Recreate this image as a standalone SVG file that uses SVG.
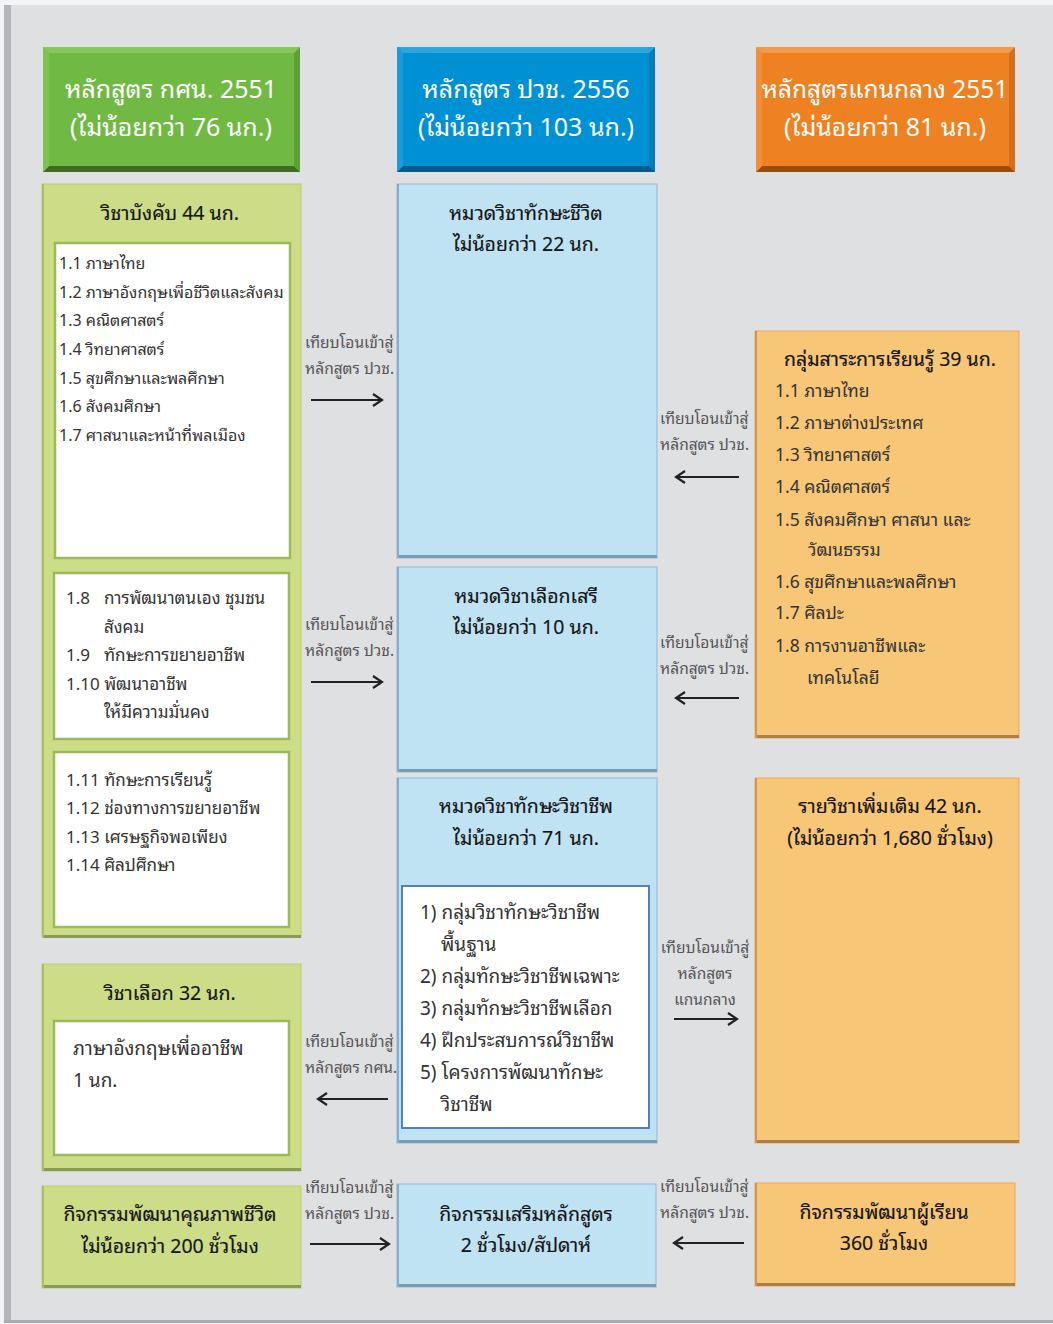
<svg xmlns="http://www.w3.org/2000/svg" width="1053" height="1324" viewBox="0 0 1053 1324">
<defs>
<marker id="ah" markerWidth="14" markerHeight="14" refX="11" refY="7" orient="auto" markerUnits="userSpaceOnUse">
<path d="M2,1 L11,7 L2,13" fill="none" stroke="#222" stroke-width="2.2"/>
</marker>
</defs>
<style>
text{font-family:"Noto Sans Thai Looped","Loma","Garuda","Tlwg Typo","Noto Sans Thai","Noto Sans","DejaVu Sans",sans-serif;}
.hd{fill:#fff;font-size:25px;text-anchor:middle;}
.ti{fill:#151515;font-size:19.5px;text-anchor:middle;stroke:#151515;stroke-width:0.15;}
.it{fill:#333;font-size:16px;}
.i2{fill:#333;font-size:17px;}
.i3{fill:#333;font-size:17.5px;}
.i4{fill:#333;font-size:19px;}
.lb{fill:#555;font-size:15.5px;}
.lbc{fill:#555;font-size:15.5px;text-anchor:middle;}
.gp{fill:#cddc87;stroke:#b6cf6a;stroke-width:1;}
.bp{fill:#c0e3f4;stroke:#8fb8dd;stroke-width:1;}
.op{fill:#f7c677;stroke:#f5a55a;stroke-width:1;}
.wg{fill:#fff;stroke:#9bbb59;stroke-width:2.5;}
.wb{fill:#fff;stroke:#4f81bd;stroke-width:2;}
.gs{fill:#8a9a58;}
.bs{fill:#7b9bb4;}
.os{fill:#a88048;}
.ar{stroke:#222;stroke-width:2.2;fill:none;marker-end:url(#ah);}
</style>
<rect x="0" y="0" width="1053" height="1324" fill="#f2f5f8"/>
<rect x="4" y="5" width="1049" height="1318" fill="#dfe0e2"/>
<rect x="4" y="5" width="7" height="1318" fill="#b4b6ba"/>
<rect x="4" y="1320" width="1049" height="3" fill="#a9abaf"/>

<g id="h1">
<rect x="43" y="47" width="257" height="125" fill="#70b943"/>
<polygon points="43,172 300,172 294,166 49,166" fill="#3f6b25"/>
<polygon points="43,47 49,53 49,166 43,172" fill="#7cc34f"/>
<polygon points="300,47 294,53 294,166 300,172" fill="#5f9e38"/>
<polygon points="43,47 300,47 294,53 49,53" fill="#86c85a"/>
<text class="hd" x="171" y="98">หลักสูตร กศน. 2551</text>
<text class="hd" x="171" y="136">(ไม่น้อยกว่า 76 นก.)</text>
</g>
<g id="h2">
<rect x="397" y="47" width="258" height="125" fill="#0090d4"/>
<polygon points="397,172 655,172 649,166 403,166" fill="#005a8a"/>
<polygon points="397,47 403,53 403,166 397,172" fill="#1a9cda"/>
<polygon points="655,47 649,53 649,166 655,172" fill="#007cb8"/>
<polygon points="397,47 655,47 649,53 403,53" fill="#2aa5de"/>
<text class="hd" x="526" y="98">หลักสูตร ปวช. 2556</text>
<text class="hd" x="526" y="136">(ไม่น้อยกว่า 103 นก.)</text>
</g>
<g id="h3">
<rect x="756" y="47" width="259" height="125" fill="#ee8121"/>
<polygon points="756,172 1015,172 1009,166 762,166" fill="#9a4d0b"/>
<polygon points="756,47 762,53 762,166 756,172" fill="#f08f38"/>
<polygon points="1015,47 1009,53 1009,166 1015,172" fill="#d4701a"/>
<polygon points="756,47 1015,47 1009,53 762,53" fill="#f39a4a"/>
<text class="hd" x="885" y="98" style="font-size:24.5px">หลักสูตรแกนกลาง 2551</text>
<text class="hd" x="885" y="136">(ไม่น้อยกว่า 81 นก.)</text>
</g>

<g id="g1">
<rect class="gp" x="42" y="184" width="259" height="753"/>
<rect class="gs" x="43" y="935" width="258" height="3"/>
<rect fill="#a9bd62" x="42" y="184" width="2" height="753"/>
<text class="ti" x="170" y="220">วิชาบังคับ 44 นก.</text>
<rect class="wg" x="55" y="243" width="235" height="315"/>
<text class="it" x="59" y="269">1.1 ภาษาไทย</text>
<text class="it" x="59" y="298">1.2 ภาษาอังกฤษเพื่อชีวิตและสังคม</text>
<text class="it" x="59" y="326">1.3 คณิตศาสตร์</text>
<text class="it" x="59" y="355">1.4 วิทยาศาสตร์</text>
<text class="it" x="59" y="384">1.5 สุขศึกษาและพลศึกษา</text>
<text class="it" x="59" y="412">1.6 สังคมศึกษา</text>
<text class="it" x="59" y="441">1.7 ศาสนาและหน้าที่พลเมือง</text>
<rect class="wg" x="54" y="573" width="235" height="166"/>
<text class="i2" x="66" y="604">1.8</text>
<text class="i2" x="104" y="604">การพัฒนาตนเอง ชุมชน</text>
<text class="i2" x="104" y="633">สังคม</text>
<text class="i2" x="66" y="661">1.9</text>
<text class="i2" x="104" y="661">ทักษะการขยายอาชีพ</text>
<text class="i2" x="66" y="690">1.10 พัฒนาอาชีพ</text>
<text class="i2" x="104" y="718">ให้มีความมั่นคง</text>
<rect class="wg" x="54" y="752" width="235" height="175"/>
<text class="i2" x="66" y="786">1.11 ทักษะการเรียนรู้</text>
<text class="i2" x="66" y="814">1.12 ช่องทางการขยายอาชีพ</text>
<text class="i2" x="66" y="843">1.13 เศรษฐกิจพอเพียง</text>
<text class="i2" x="66" y="871">1.14 ศิลปศึกษา</text>
</g>

<g id="g2">
<rect class="gp" x="42" y="964" width="259" height="207"/>
<rect class="gs" x="43" y="1168" width="258" height="3"/>
<rect fill="#a9bd62" x="42" y="964" width="2" height="207"/>
<text class="ti" x="170" y="1000">วิชาเลือก 32 นก.</text>
<rect class="wg" x="54" y="1021" width="235" height="134"/>
<text class="i4" x="73" y="1055">ภาษาอังกฤษเพื่ออาชีพ</text>
<text class="i4" x="73" y="1087">1 นก.</text>
</g>

<g id="g3">
<rect class="gp" x="42" y="1186" width="259" height="102"/>
<rect class="gs" x="43" y="1285" width="258" height="3"/>
<rect fill="#a9bd62" x="42" y="1186" width="2" height="102"/>
<text class="ti" x="170" y="1221">กิจกรรมพัฒนาคุณภาพชีวิต</text>
<text class="ti" x="170" y="1253">ไม่น้อยกว่า 200 ชั่วโมง</text>
</g>

<g id="b1">
<rect class="bp" x="397" y="184" width="260" height="374"/>
<rect class="bs" x="398" y="555" width="259" height="3"/>
<rect fill="#8aaccc" x="397" y="184" width="2" height="374"/>
<text class="ti" x="526" y="220">หมวดวิชาทักษะชีวิต</text>
<text class="ti" x="526" y="251">ไม่น้อยกว่า 22 นก.</text>
</g>
<g id="b2">
<rect class="bp" x="397" y="567" width="260" height="205"/>
<rect class="bs" x="398" y="769" width="259" height="3"/>
<rect fill="#8aaccc" x="397" y="567" width="2" height="205"/>
<text class="ti" x="526" y="603">หมวดวิชาเลือกเสรี</text>
<text class="ti" x="526" y="634">ไม่น้อยกว่า 10 นก.</text>
</g>
<g id="b3">
<rect class="bp" x="397" y="778" width="260" height="365"/>
<rect class="bs" x="398" y="1140" width="259" height="3"/>
<rect fill="#8aaccc" x="397" y="778" width="2" height="365"/>
<text class="ti" x="526" y="813">หมวดวิชาทักษะวิชาชีพ</text>
<text class="ti" x="526" y="845">ไม่น้อยกว่า 71 นก.</text>
<rect class="wb" x="402" y="886" width="247" height="242"/>
<text class="i4" x="420" y="919">1) กลุ่มวิชาทักษะวิชาชีพ</text>
<text class="i4" x="441" y="951">พื้นฐาน</text>
<text class="i4" x="420" y="983">2) กลุ่มทักษะวิชาชีพเฉพาะ</text>
<text class="i4" x="420" y="1015">3) กลุ่มทักษะวิชาชีพเลือก</text>
<text class="i4" x="420" y="1047">4) ฝึกประสบการณ์วิชาชีพ</text>
<text class="i4" x="420" y="1079">5) โครงการพัฒนาทักษะ</text>
<text class="i4" x="441" y="1111">วิชาชีพ</text>
</g>
<g id="b4">
<rect class="bp" x="397" y="1184" width="259" height="103"/>
<rect class="bs" x="398" y="1284" width="258" height="3"/>
<rect fill="#8aaccc" x="397" y="1184" width="2" height="103"/>
<text class="ti" x="526" y="1221">กิจกรรมเสริมหลักสูตร</text>
<text class="ti" x="526" y="1252">2 ชั่วโมง/สัปดาห์</text>
</g>

<g id="o1">
<rect class="op" x="755" y="331" width="264" height="407"/>
<rect class="os" x="756" y="735" width="263" height="3"/>
<rect fill="#c89a5a" x="755" y="331" width="2" height="407"/>
<text class="ti" x="890" y="366">กลุ่มสาระการเรียนรู้ 39 นก.</text>
<text class="i3" x="775" y="397">1.1 ภาษาไทย</text>
<text class="i3" x="775" y="429">1.2 ภาษาต่างประเทศ</text>
<text class="i3" x="775" y="461">1.3 วิทยาศาสตร์</text>
<text class="i3" x="775" y="493">1.4 คณิตศาสตร์</text>
<text class="i3" x="775" y="526">1.5 สังคมศึกษา ศาสนา และ</text>
<text class="i3" x="808" y="556">วัฒนธรรม</text>
<text class="i3" x="775" y="588">1.6 สุขศึกษาและพลศึกษา</text>
<text class="i3" x="775" y="619">1.7 ศิลปะ</text>
<text class="i3" x="775" y="652">1.8 การงานอาชีพและ</text>
<text class="i3" x="807" y="684">เทคโนโลยี</text>
</g>
<g id="o2">
<rect class="op" x="755" y="778" width="264" height="365"/>
<rect class="os" x="756" y="1140" width="263" height="3"/>
<rect fill="#c89a5a" x="755" y="778" width="2" height="365"/>
<text class="ti" x="890" y="813">รายวิชาเพิ่มเติม 42 นก.</text>
<text class="ti" x="890" y="845">(ไม่น้อยกว่า 1,680 ชั่วโมง)</text>
</g>
<g id="o3">
<rect class="op" x="755" y="1183" width="260" height="103"/>
<rect class="os" x="756" y="1283" width="259" height="3"/>
<rect fill="#c89a5a" x="755" y="1183" width="2" height="103"/>
<text class="ti" x="884" y="1219">กิจกรรมพัฒนาผู้เรียน</text>
<text class="ti" x="884" y="1250">360 ชั่วโมง</text>
</g>

<g id="connectors">
<text class="lb" x="305" y="348">เทียบโอนเข้าสู่</text>
<text class="lb" x="305" y="374">หลักสูตร ปวช.</text>
<line class="ar" x1="311" y1="400" x2="382" y2="400"/>
<text class="lb" x="305" y="630">เทียบโอนเข้าสู่</text>
<text class="lb" x="305" y="656">หลักสูตร ปวช.</text>
<line class="ar" x1="311" y1="682" x2="382" y2="682"/>
<text class="lb" x="305" y="1047">เทียบโอนเข้าสู่</text>
<text class="lb" x="305" y="1073">หลักสูตร กศน.</text>
<line class="ar" x1="388" y1="1099" x2="318" y2="1099"/>
<text class="lb" x="305" y="1193">เทียบโอนเข้าสู่</text>
<text class="lb" x="305" y="1219">หลักสูตร ปวช.</text>
<line class="ar" x1="310" y1="1244" x2="389" y2="1244"/>
<text class="lb" x="660" y="424">เทียบโอนเข้าสู่</text>
<text class="lb" x="660" y="450">หลักสูตร ปวช.</text>
<line class="ar" x1="739" y1="477" x2="676" y2="477"/>
<text class="lb" x="660" y="648">เทียบโอนเข้าสู่</text>
<text class="lb" x="660" y="674">หลักสูตร ปวช.</text>
<line class="ar" x1="739" y1="698" x2="676" y2="698"/>
<text class="lbc" x="705" y="953">เทียบโอนเข้าสู่</text>
<text class="lbc" x="705" y="979">หลักสูตร</text>
<text class="lbc" x="705" y="1005">แกนกลาง</text>
<line class="ar" x1="674" y1="1019" x2="737" y2="1019"/>
<text class="lb" x="660" y="1192">เทียบโอนเข้าสู่</text>
<text class="lb" x="660" y="1218">หลักสูตร ปวช.</text>
<line class="ar" x1="744" y1="1243" x2="674" y2="1243"/>
</g>
</svg>
